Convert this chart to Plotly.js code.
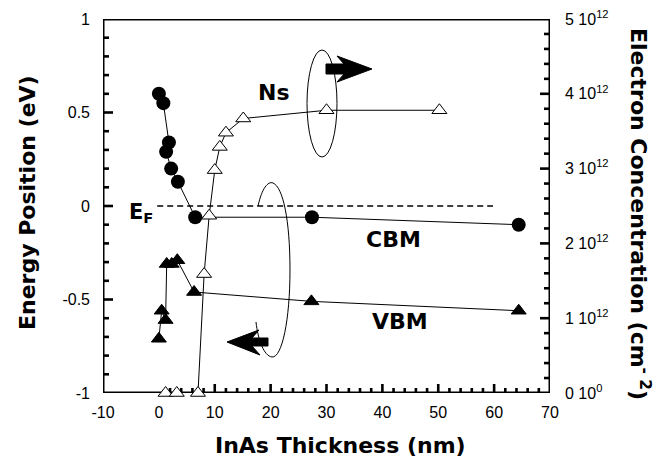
<!DOCTYPE html>
<html>
<head>
<meta charset="utf-8">
<script src="https://cdn.plot.ly/plotly-3.0.1.min.js"></script>
<style>html,body{margin:0;padding:0;background:#fff;}#chart{width:656px;height:460px;}</style>
</head>
<body>
<div id="chart"></div>
<script>
// ---- data ----
const cbmX = [0, 0.8, 1.8, 1.3, 2.2, 3.4, 6.5, 27.4, 64.4];
const cbmY = [0.60, 0.55, 0.34, 0.29, 0.20, 0.13, -0.06, -0.06, -0.10];

const vbmX = [0, 0.5, 1.2, 1.4, 2.3, 3.3, 6.3, 27.3, 64.4];
const vbmY = [-0.71, -0.56, -0.61, -0.31, -0.31, -0.29, -0.46, -0.51, -0.56];

const nsX = [1.2, 3.2, 7.0, 8.1, 9.0, 10.0, 10.9, 12.0, 15.1, 30.0, 50.2];
const nsY = [0, 0, 0, 1.59e12, 2.37e12, 2.98e12, 3.29e12, 3.48e12, 3.67e12, 3.78e12, 3.78e12];

const efX = [-0.3, 59.8];
const efY = [0, 0];

const xTicks = [-10, 0, 10, 20, 30, 40, 50, 60, 70];
const xTickText = ["-10", "0", "10", "20", "30", "40", "50", "60", "70"];
const yTicks = [-1, -0.5, 0, 0.5, 1];
const yTickText = ["-1", "-0.5", "0", "0.5", "1"];
const y2Ticks = [0, 1e12, 2e12, 3e12, 4e12, 5e12];
const y2TickText = ["0 10<sup>0</sup>", "1 10<sup>12</sup>", "2 10<sup>12</sup>", "3 10<sup>12</sup>", "4 10<sup>12</sup>", "5 10<sup>12</sup>"];

// ---- layout helpers (pixel -> paper) ----
const L = 103, R = 550, T = 19, B = 393;
const px = p => (p - L) / (R - L);
const py = p => (B - p) / (B - T);
function path(cmds) {
  return cmds.map(c => {
    if (c[0] === 'Z') return 'Z';
    const op = c[0]; const pts = c.slice(1);
    let s = op;
    for (let i = 0; i < pts.length; i += 2) s += (i ? ' ' : '') + px(pts[i]).toFixed(5) + ',' + py(pts[i + 1]).toFixed(5);
    return s;
  }).join(' ');
}

// ---- frame and inside tick marks, drawn as line traces on the axes ----
const XPX = (R - L) / 80;           // pixels per x unit
const YPX = (B - T) / 2;            // pixels per y unit
const Y2PX = (B - T) / 5e12;        // pixels per y2 unit
const tx = [], ty = [], t2x = [], t2y = [];
for (let i = 2; i <= 68; i += 2) {
  const len = (i % 10 === 0 ? 9 : 5) / YPX;
  tx.push(i, i, null); ty.push(-1, -1 + len, null);
}
for (let i = -9; i <= 9; i++) {
  const len = (i % 5 === 0 ? 10 : 6) / XPX;
  tx.push(-10, -10 + len, null); ty.push(i / 10, i / 10, null);
}
for (let i = 1; i <= 24; i++) {
  const len = (i % 5 === 0 ? 10 : 6) / XPX;
  t2x.push(70 - len, 70, null); t2y.push(i * 2e11, i * 2e11, null);
}

const tickFont = {family: 'Liberation Sans, Arial, sans-serif', size: 16, color: '#000'};
const boldFont = (s) => ({family: 'DejaVu Sans, sans-serif', size: s, color: '#000', weight: 'bold'});

const traces = [
  {x: [-10, 70, 70, -10, -10], y: [-1, -1, 1, 1, -1], mode: 'lines', cliponaxis: false,
   line: {color: '#000', width: 3}, hoverinfo: 'skip'},
  {x: tx, y: ty, mode: 'lines', cliponaxis: false, line: {color: '#000', width: 2.6}, hoverinfo: 'skip'},
  {x: t2x, y: t2y, yaxis: 'y2', mode: 'lines', cliponaxis: false, line: {color: '#000', width: 2.6}, hoverinfo: 'skip'},
  {x: efX, y: efY, mode: 'lines', line: {color: '#000', width: 1.5, dash: '6px,4px'}, hoverinfo: 'skip'},
  {x: cbmX, y: cbmY, mode: 'lines+markers', line: {color: '#000', width: 1},
   marker: {symbol: 'circle', size: 14, color: '#000'}},
  {x: vbmX, y: vbmY, mode: 'lines+markers', line: {color: '#000', width: 1},
   marker: {symbol: 'triangle-up', size: 13, color: '#000', line: {color: '#000', width: 1}}},
  {x: nsX, y: nsY, yaxis: 'y2', mode: 'lines+markers', line: {color: '#000', width: 1}, cliponaxis: false,
   marker: {symbol: 'triangle-up', size: 13, color: '#fff', line: {color: '#000', width: 1}}}
];

const layout = {
  width: 656, height: 460,
  margin: {l: L, r: 656 - R, t: T, b: 460 - B, pad: 0},
  paper_bgcolor: '#fff', plot_bgcolor: '#fff',
  showlegend: false,
  xaxis: {
    range: [-10, 70], tickmode: 'array', tickvals: xTicks, ticktext: xTickText, ticks: '',
    showline: false, showgrid: false, zeroline: false, tickfont: tickFont, ticklabelstandoff: 8
  },
  yaxis: {
    range: [-1, 1], tickmode: 'array', tickvals: yTicks, ticktext: yTickText, ticks: '',
    showline: false, showgrid: false, zeroline: false, tickfont: tickFont, ticklabelstandoff: 12
  },
  yaxis2: {
    range: [0, 5e12], overlaying: 'y', side: 'right', tickmode: 'array', tickvals: y2Ticks, ticktext: y2TickText,
    ticks: '', showline: false, showgrid: false, zeroline: false, tickfont: tickFont, ticklabelstandoff: 14
  },
  shapes: [
    {type: 'circle', xref: 'paper', yref: 'paper', x0: px(307), x1: px(337), y0: py(50), y1: py(157),
     line: {color: '#000', width: 1}},
    {type: 'path', xref: 'paper', yref: 'paper',
     path: path([['M', 258, 206], ['C', 262, 188, 268, 181, 273, 183], ['C', 283, 187, 290, 220, 290, 270],
                 ['C', 290, 320, 282, 358, 272, 357], ['C', 264, 356, 258, 340, 256, 322]]),
     line: {color: '#000', width: 1}},
    {type: 'path', xref: 'paper', yref: 'paper',
     path: path([['M', 326, 64], ['L', 344, 64], ['L', 337, 56], ['L', 372, 69], ['L', 337, 82], ['L', 344, 74], ['L', 326, 74], ['Z']]),
     fillcolor: '#000', line: {color: '#000', width: 1}},
    {type: 'path', xref: 'paper', yref: 'paper',
     path: path([['M', 227, 342], ['L', 259, 330], ['L', 252, 338], ['L', 268, 338], ['L', 268, 346], ['L', 252, 346], ['L', 260, 355], ['Z']]),
     fillcolor: '#000', line: {color: '#000', width: 1}}
  ],
  annotations: [
    {text: 'InAs Thickness (nm)', xref: 'paper', yref: 'paper', x: px(340), y: py(445), showarrow: false,
     xanchor: 'center', yanchor: 'middle', font: boldFont(22)},
    {text: 'Energy Position (eV)', xref: 'paper', yref: 'paper', x: px(27), y: py(203), showarrow: false,
     xanchor: 'center', yanchor: 'middle', textangle: -90, font: boldFont(22)},
    {text: 'Electron Concentration (cm<sup>- 2</sup>)', xref: 'paper', yref: 'paper', x: px(640), y: py(214), showarrow: false,
     xanchor: 'center', yanchor: 'middle', textangle: 90, font: boldFont(22)},
    {text: 'Ns', xref: 'paper', yref: 'paper', x: px(274), y: py(92), showarrow: false,
     xanchor: 'center', yanchor: 'middle', font: boldFont(22)},
    {text: 'CBM', xref: 'paper', yref: 'paper', x: px(393), y: py(240), showarrow: false,
     xanchor: 'center', yanchor: 'middle', font: boldFont(22)},
    {text: 'VBM', xref: 'paper', yref: 'paper', x: px(400), y: py(321), showarrow: false,
     xanchor: 'center', yanchor: 'middle', font: boldFont(22)},
    {text: 'E<sub>F</sub>', xref: 'paper', yref: 'paper', x: px(141), y: py(213), showarrow: false,
     xanchor: 'center', yanchor: 'middle', font: boldFont(21)}
  ]
};

Plotly.newPlot('chart', traces, layout, {staticPlot: true, displayModeBar: false});
</script>
</body>
</html>
